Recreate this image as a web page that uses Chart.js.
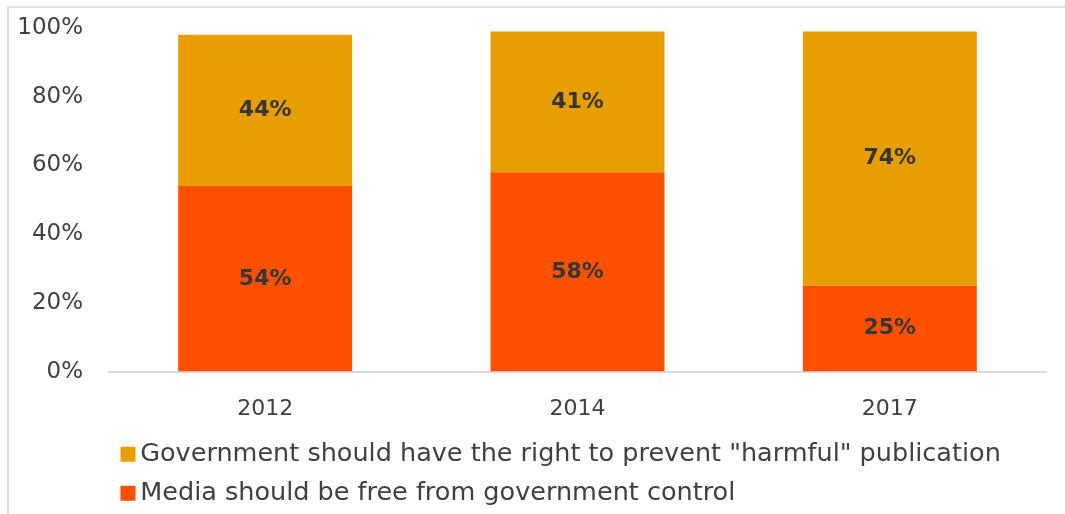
<!DOCTYPE html>
<html>
<head>
<meta charset="utf-8">
<script src="https://cdn.jsdelivr.net/npm/chart.js@4/dist/chart.umd.min.js"></script>
<style>
  html, body { margin: 0; padding: 0; background: #fff; overflow: hidden; width: 1065px; height: 514px; }
  .edge { position: absolute; background: #dedede; }
  #edgeTop { left: 7px; top: 6px; width: 1058px; height: 2px; }
  #edgeLeft { left: 7px; top: 6px; width: 2px; height: 508px; }
  #wrap { position: absolute; left: 0; top: 0; width: 1065px; height: 514px; }
</style>
</head>
<body>
<div class="edge" id="edgeTop"></div>
<div class="edge" id="edgeLeft"></div>
<div id="wrap"><canvas id="pressChart" width="1065" height="514"></canvas></div>
<script>
document.addEventListener("DOMContentLoaded", function () {
  const years = ['2012', '2014', '2017'];
  const mediaFree = [54, 58, 25];
  const govRight = [44, 41, 74];
  const yTicks = [0, 20, 40, 60, 80, 100];

  const font = "'DejaVu Sans', sans-serif";
  const textColor = '#404040';
  const swatch = 15;

  // writes each segment's value in the middle of its bar
  const barValues = {
    id: 'barValues',
    afterDatasetsDraw(chart) {
      const ctx = chart.ctx;
      ctx.save();
      ctx.font = 'bold 22px ' + font;
      ctx.fillStyle = '#363636';
      ctx.textAlign = 'center';
      ctx.textBaseline = 'middle';
      chart.data.datasets.forEach((ds, i) => {
        chart.getDatasetMeta(i).data.forEach((bar, j) => {
          const p = bar.getProps(['x', 'y', 'base'], true);
          ctx.fillText(ds.data[j] + '%', p.x, (p.y + p.base) / 2);
        });
      });
      ctx.restore();
    }
  };

  // legend squares drawn a bit wider than the slot the legend leaves for them
  const legendSwatches = {
    id: 'legendSwatches',
    afterDraw(chart) {
      const legend = chart.legend;
      if (!legend || !legend.legendHitBoxes) return;
      const ctx = chart.ctx;
      ctx.save();
      legend.legendItems.forEach((item, i) => {
        const box = legend.legendHitBoxes[i];
        ctx.fillStyle = chart.data.datasets[item.datasetIndex].backgroundColor;
        ctx.fillRect(box.left - 2, box.top + (box.height - swatch) / 2, swatch, swatch);
      });
      ctx.restore();
    }
  };

  const data = {
    labels: years,
    datasets: [{
      label: 'Media should be free from government control',
      backgroundColor: '#ff5000',
      data: mediaFree,
    }, {
      label: 'Government should have the right to prevent "harmful" publication',
      backgroundColor: '#e69e00',
      data: govRight,
    }]
  };

  const config = {
    type: 'bar',
    data: data,
    plugins: [barValues, legendSwatches],
    options: {
      responsive: false,
      animation: false,
      layout: { padding: { top: 28, right: 19, left: 0, bottom: -2 } },
      datasets: {
        bar: { barPercentage: 0.557, categoryPercentage: 1 }
      },
      plugins: {
        tooltip: { enabled: false },
        legend: {
          position: 'bottom',
          align: 'start',
          fullSize: false,
          reverse: true,
          labels: {
            boxWidth: 5,
            boxHeight: swatch,
            padding: 13.5,
            color: textColor,
            font: { family: font, size: 25.5 },
            generateLabels(chart) {
              return Chart.defaults.plugins.legend.labels.generateLabels(chart).map(item => {
                item.fillStyle = 'rgba(0,0,0,0)';
                item.strokeStyle = 'rgba(0,0,0,0)';
                item.lineWidth = 0;
                return item;
              });
            }
          }
        }
      },
      scales: {
        x: {
          stacked: true,
          afterFit(scale) { scale.height -= 10; },
          grid: { display: false },
          border: { display: true, color: '#d9d9d9', width: 2 },
          ticks: { color: textColor, padding: 16, font: { family: font, size: 22 } }
        },
        y: {
          stacked: true,
          min: 0,
          max: 100,
          afterFit(scale) {
            scale.width = 109;
            scale.paddingTop = 0;
          },
          afterBuildTicks(scale) { scale.ticks = yTicks.map(v => ({ value: v })); },
          grid: { display: false, drawTicks: false },
          border: { display: false },
          ticks: {
            color: textColor,
            padding: 26,
            font: { family: font, size: 23 },
            callback: function (value) { return value + '%'; }
          }
        }
      }
    }
  };

  const ctx = document.getElementById('pressChart').getContext('2d');
  window.myChart = new Chart(ctx, config);
});
</script>
</body>
</html>
